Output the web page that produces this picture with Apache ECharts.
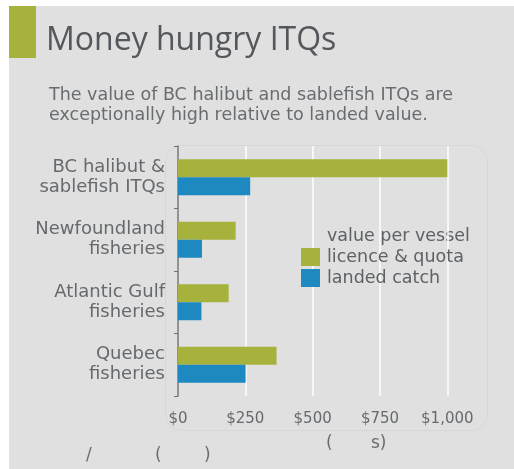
<!DOCTYPE html>
<html>
<head>
<meta charset="utf-8">
<script src="https://cdn.jsdelivr.net/npm/echarts@6/dist/echarts.min.js"></script>
<style>
  html, body { margin: 0; padding: 0; background: #fff; }
  #chart { width: 514px; height: 469px; }
</style>
</head>
<body>
<div id="chart"></div>
<script>
// categories, top to bottom
var categories = ['BC halibut &\nsablefish ITQs', 'Newfoundland\nfisheries', 'Atlantic Gulf\nfisheries', 'Quebec\nfisheries'];
// value per vessel, $ thousands
var licenceQuota = [1000, 214, 188, 366];
var landedCatch = [268, 89, 87, 251];
var xTicks = [0, 250, 500, 750, 1000];

var green = '#a7b23c';
var blue = '#1e89c1';
var textGrey = '#5e6165';
var font = 'DejaVu Sans';

var chart = echarts.init(document.getElementById('chart'));

var option = {
  backgroundColor: '#fff',
  animation: false,
  textStyle: { fontFamily: font },
  graphic: [
    // grey panel
    { type: 'rect', left: 9, top: 6, shape: { width: 505, height: 463 }, style: { fill: '#dfe0df' }, z: -10 },
    // green accent
    { type: 'rect', left: 9, top: 6, shape: { width: 27, height: 52 }, style: { fill: green }, z: -5 },
    // faint rounded plot panel
    { type: 'rect', left: 165, top: 145, shape: { width: 322, height: 285, r: 16 }, style: { fill: 'rgba(0,0,0,0)', stroke: '#d6d7d6', lineWidth: 1 }, z: -4 },
    { type: 'text', left: 46, top: 25, style: { text: 'Money hungry ITQs', fill: '#54575b', font: '32px "Open Sans"' } },
    { type: 'text', left: 49, top: 85, style: { text: 'The value of BC halibut and sablefish ITQs are\nexceptionally high relative to landed value.', fill: '#696c70', font: '17.5px "DejaVu Sans"', lineHeight: 20 } },
    { type: 'text', left: 327, top: 227, style: { text: 'value per vessel', fill: textGrey, font: '17.5px "DejaVu Sans"' } },
    { type: 'text', left: 326, top: 435, style: { text: '(', fill: '#6a6d70', font: '17px "DejaVu Sans"' } },
    { type: 'text', left: 371, top: 435, style: { text: 's)', fill: '#6a6d70', font: '17px "DejaVu Sans"' } },
    { type: 'text', left: 86, top: 447, style: { text: '/', fill: '#6a6d70', font: '17px "DejaVu Sans"' } },
    { type: 'text', left: 155, top: 447, style: { text: '(', fill: '#6a6d70', font: '17px "DejaVu Sans"' } },
    { type: 'text', left: 204, top: 447, style: { text: ')', fill: '#6a6d70', font: '17px "DejaVu Sans"' } }
  ],
  legend: {
    orient: 'vertical',
    left: 301,
    top: 248,
    itemWidth: 19,
    itemHeight: 18,
    itemGap: 3,
    icon: 'rect',
    padding: 0,
    textStyle: { fontSize: 17.5, color: textGrey, fontFamily: font, padding: [0, 0, 0, 2] },
    data: ['licence & quota', 'landed catch']
  },
  grid: { left: 178, top: 146, width: 269.3, height: 250, containLabel: false },
  xAxis: {
    type: 'value',
    min: 0,
    max: 1000,
    interval: 250,
    axisLine: { show: false },
    axisTick: { show: false },
    splitLine: { show: true, lineStyle: { color: '#ffffff', width: 1.5 } },
    axisLabel: {
      margin: 16,
      fontSize: 15,
      color: '#666a6e',
      formatter: function (v) { return xTicks.indexOf(v) >= 0 ? '$' + v.toLocaleString('en-US') : ''; }
    }
  },
  yAxis: {
    type: 'category',
    inverse: true,
    data: categories,
    axisLine: { show: true, lineStyle: { color: '#707070', width: 1.5 } },
    axisTick: { show: true, length: 4, lineStyle: { color: '#707070' } },
    axisLabel: { margin: 13, fontSize: 18, lineHeight: 20, color: '#66696d' },
    splitLine: { show: false }
  },
  series: [
    { name: 'licence & quota', type: 'bar', data: licenceQuota, barWidth: 18, barGap: '0%', itemStyle: { color: green }, z: 1 },
    { name: 'landed catch', type: 'bar', data: landedCatch, barWidth: 18, itemStyle: { color: blue }, z: 1 }
  ]
};

chart.setOption(option);
window.addEventListener('resize', function () { chart.resize(); });
</script>
</body>
</html>
